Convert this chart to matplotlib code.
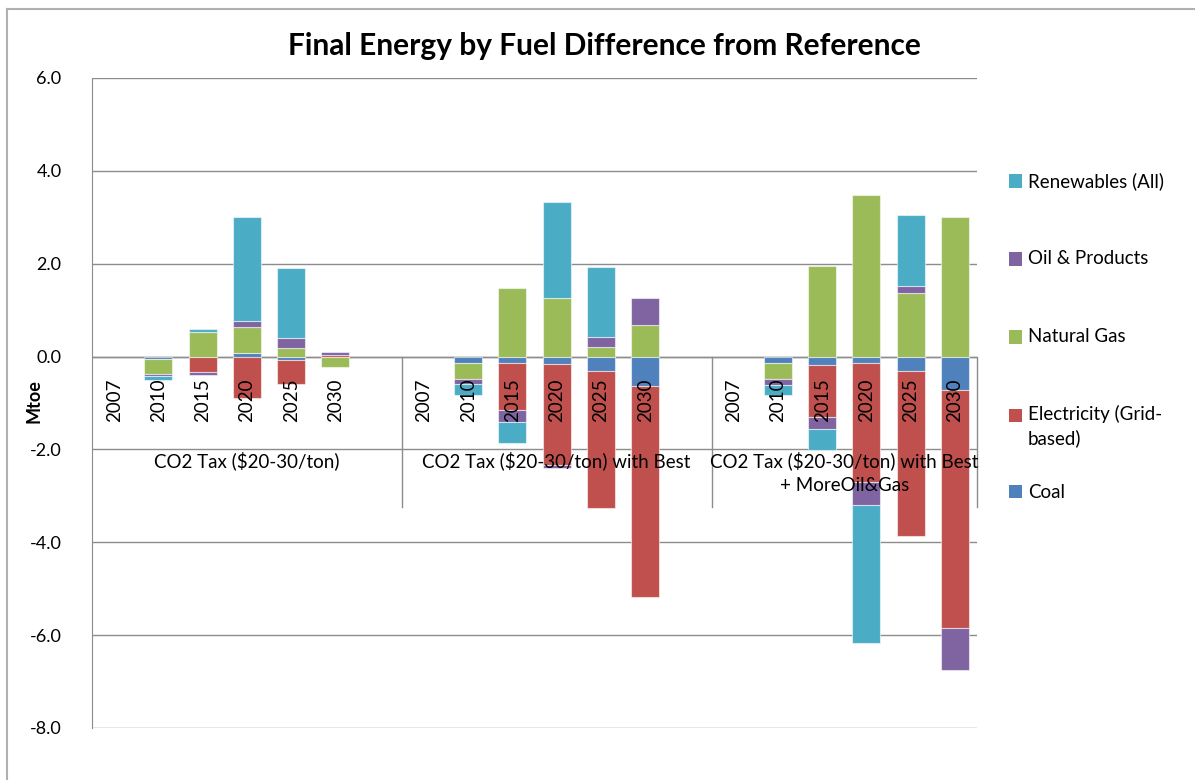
import numpy as np
import matplotlib
matplotlib.use("Agg")
import matplotlib.pyplot as plt
from matplotlib.patches import Rectangle
from matplotlib.lines import Line2D

plt.rcParams['font.family'] = ['Lato', 'DejaVu Sans']

# categories
years = ['2007', '2010', '2015', '2020', '2025', '2030']
groups = ['CO2 Tax ($20-30/ton)',
          'CO2 Tax ($20-30/ton) with Best',
          'CO2 Tax ($20-30/ton) with Best\n+ MoreOil&Gas']

# values (Mtoe), 3 scenarios x 6 years
coal = [0, -0.05, 0, 0.085, -0.07, 0,
        0, -0.13, -0.14, -0.16, -0.32, -0.64,
        0, -0.13, -0.19, -0.14, -0.32, -0.71]
electricity = [0, 0, -0.33, -0.89, -0.52, 0.04,
               0, 0, -1.02, -2.18, -2.95, -4.53,
               0, 0, -1.12, -2.57, -3.55, -5.14]
natural_gas = [0, -0.33, 0.52, 0.545, 0.19, -0.23,
               0, -0.36, 1.47, 1.26, 0.205, 0.68,
               0, -0.36, 1.96, 3.48, 1.37, 3.0]
oil = [0, -0.045, -0.07, 0.135, 0.22, 0.06,
       0, -0.09, -0.24, -0.07, 0.215, 0.58,
       0, -0.12, -0.26, -0.49, 0.15, -0.9]
renewables = [0, -0.08, 0.07, 2.245, 1.50, 0,
              0, -0.25, -0.46, 2.08, 1.51, 0,
              0, -0.22, -0.45, -2.97, 1.53, 0]

series = [('Coal', coal, '#4F81BD'),
          ('Electricity (Grid-\nbased)', electricity, '#C0504D'),
          ('Natural Gas', natural_gas, '#9BBB59'),
          ('Oil & Products', oil, '#8064A2'),
          ('Renewables (All)', renewables, '#4BACC6')]

W, H = 1195, 780
fig = plt.figure(figsize=(W / 100, H / 100), dpi=100)
fig.patch.set_facecolor('white')


def fx(x):
    return x / W


def fy(y):
    return 1 - y / H


ax = fig.add_axes([fx(92), fy(728), fx(977) - fx(92), fy(78) - fy(728)])

# 20 slots: 6 years, blank, 6 years, blank, 6 years
pos = np.array([g * 7 + i for g in range(3) for i in range(6)], dtype=float)

pos_bottom = np.zeros(len(pos))
neg_bottom = np.zeros(len(pos))
for name, vals, col in series:
    v = np.array(vals, dtype=float)
    b = np.where(v >= 0, pos_bottom, neg_bottom)
    nz = v != 0
    ax.bar(pos[nz], v[nz], width=0.63, bottom=b[nz], color=col,
           edgecolor=(1, 1, 1, 0.55), linewidth=0.8, zorder=3)
    pos_bottom += np.where(v >= 0, v, 0)
    neg_bottom += np.where(v < 0, v, 0)

ax.set_xlim(-0.5, 19.5)
ax.set_ylim(-8, 6)
ax.set_yticks(np.arange(-8, 7, 2))
ax.set_yticklabels([f'{t:.1f}' for t in np.arange(-8, 7, 2)], fontsize=13)
ax.tick_params(axis='y', length=0, pad=22)
ax.set_xticks([])
ax.grid(axis='y', color='#8c8c8c', linewidth=1, zorder=0)
for s in ['top', 'right', 'bottom']:
    ax.spines[s].set_visible(False)
ax.spines['left'].set_color('#8c8c8c')
ax.axhline(0, color='#8c8c8c', linewidth=1, zorder=2)

# category axis labels
for p, yr in zip(pos, years * 3):
    ax.text(p, -0.93, yr, rotation=90, ha='center', va='center',
            fontsize=13.5, zorder=5)
for g, lab in enumerate(groups):
    ax.text(g * 7 + 2.5 + (0.5 if g < 2 else 0), -2.05, lab, ha='center', va='top',
            fontsize=13.5, linespacing=1.45, zorder=5)
for xb in [6.5, 13.5, 19.5]:
    ax.plot([xb, xb], [0, -3.24], color='#8c8c8c', linewidth=1,
            clip_on=False, zorder=2)

ax.set_ylabel('Mtoe', fontsize=13, fontweight='bold', labelpad=10)
ax.yaxis.set_label_coords(fx(25) - fx(92), (fy(401) - fy(728)) / (fy(78) - fy(728)))

fig.text(fx(604), fy(46), 'Final Energy by Fuel Difference from Reference',
         ha='center', va='center', fontsize=21.5, fontweight='bold')

# legend on the right
leg_y = {'Renewables (All)': 181, 'Oil & Products': 259, 'Natural Gas': 337,
         'Electricity (Grid-\nbased)': 415, 'Coal': 492}
for name, vals, col in series:
    y = leg_y[name]
    fig.patches.append(Rectangle((fx(1009), fy(y + 6.5)), fx(13), 13 / H,
                                 transform=fig.transFigure, facecolor=col,
                                 edgecolor='none'))
    if '\n' in name:
        fig.text(fx(1028), fy(y - 10), name, ha='left', va='top',
                 fontsize=13.5, linespacing=1.4)
    else:
        fig.text(fx(1028), fy(y), name, ha='left', va='center', fontsize=13.5)

# chart area border
fig.add_artist(Line2D([fx(7), fx(7)], [fy(9), 0], transform=fig.transFigure,
                      color='#b0b0b0', linewidth=1.5))
fig.add_artist(Line2D([fx(7), 1], [fy(9), fy(9)], transform=fig.transFigure,
                      color='#b0b0b0', linewidth=1.5))

fig.savefig('out.png', dpi=100, facecolor='white')
